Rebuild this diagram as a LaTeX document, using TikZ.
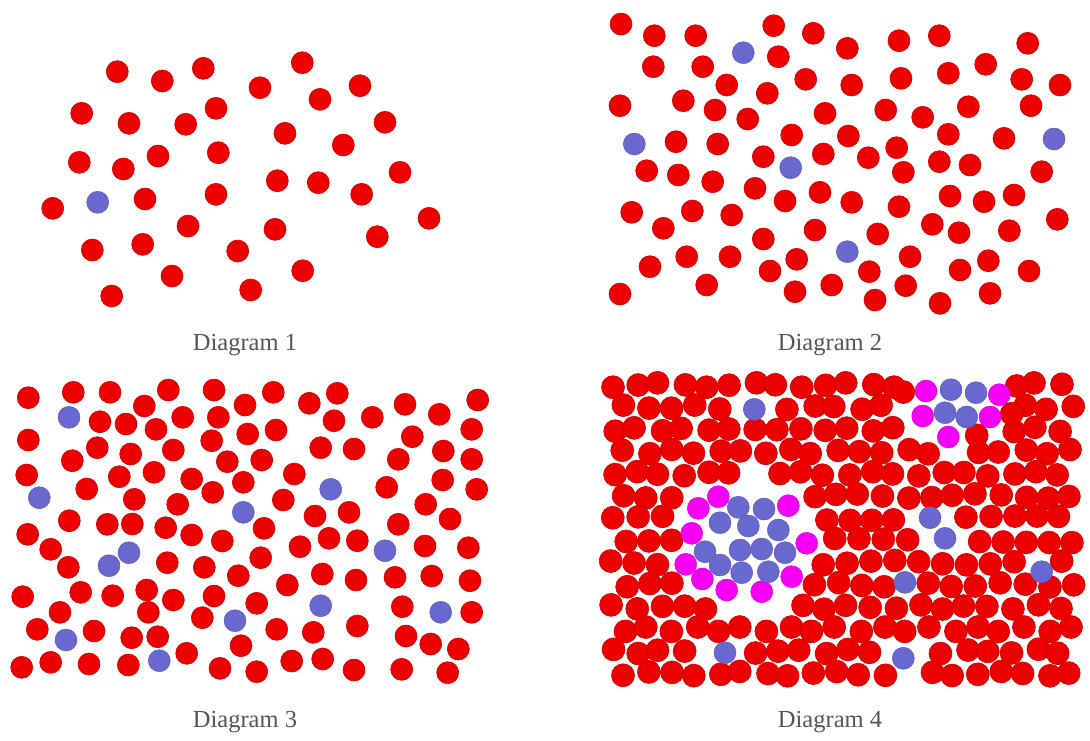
\documentclass[tikz,border=0pt]{standalone}
\usepackage{fontspec}
\setmainfont{Liberation Serif}
\definecolor{dotred}{RGB}{238,0,0}
\definecolor{dotredd}{RGB}{205,0,0}
\definecolor{dotblue}{RGB}{104,104,206}
\definecolor{dotblued}{RGB}{90,90,190}
\definecolor{dotmag}{RGB}{245,0,245}
\definecolor{dotmagd}{RGB}{220,0,220}
\definecolor{capgray}{RGB}{85,85,85}
\tikzset{
  rd/.style={fill=dotred,draw=dotredd,line width=0.6pt},
  bd/.style={fill=dotblue,draw=dotblued,line width=0.5pt},
  md/.style={fill=dotmag,draw=dotmagd,line width=0.5pt},
  captext/.style={anchor=base,text=capgray,font=\fontsize{24.5}{28}\selectfont,inner sep=0pt}
}
\begin{document}
\begin{tikzpicture}[x=1pt,y=-1pt]
\useasboundingbox (0,0) rectangle (1090,740);
\fill[white] (0,0) rectangle (1090,740);

% ---------------- Diagram 1
\foreach \x/\y in {117.3/71.7, 162.3/81, 203.3/68.3, 302.3/62.7, 260/87.7, 360/85.7, 320/99.3, 81.7/113.3, 129/123.3, 185.7/124.3, 216/108.3, 285/133.3, 385/122.3, 343.3/145, 79.3/162.3, 123.3/169, 158/156, 218.3/152.7, 277.3/180.7, 318.3/182.7, 361.7/194.3, 400/172.3, 52.7/208.3, 145/199, 216/194.3, 188/226, 275/229.3, 429/218.3, 377.3/236.7, 92.3/250, 142.7/244.3, 237.7/251, 302.7/270.7, 172/276, 111.7/296, 250.7/290}
  \fill[rd] (\x,\y) circle[radius=11pt];
\fill[bd] (97.7,202.3) circle[radius=11pt];

% ---------------- Diagram 2
\foreach \x/\y in {621/24, 654.3/35.7, 695.7/35.7, 773.7/25.7, 813.3/33.3, 778.3/56.7, 653.3/66.7, 702.7/66.7, 726.7/85, 805.7/79.3, 767.3/93.3, 620/105.7, 683.3/100.7, 715/110, 747.7/119, 825/113.3, 676/141.7, 717.7/144, 791.7/135, 763.3/156.7, 823.3/154, 646.7/170.7, 678.3/175, 712.7/181.7, 755/188.3, 785/201, 820/192.3, 631.7/212.3, 692.3/211, 731.7/215, 663.3/228.3, 763.3/239, 815/230, 650/266.7, 686.7/256.7, 730/256.7, 796.7/259.3, 770/271, 620/294, 706.7/285, 795/291.7, 831.7/285,
 847.3/48.3, 899/40.7, 939.3/35.7, 1027.7/43.3, 851.7/85, 901/78.3, 948.3/73.3, 985.7/64.3, 1021.7/79.3, 1060/85, 885.7/110, 922.7/117.3, 968.3/106.7, 1031/105.7, 848.3/136, 896.7/147.7, 948.3/134.3, 1004/138.3, 868.3/157.7, 903.3/172.3, 939.3/161.7, 970/165, 1041.7/171.7, 851.7/202.3, 899/206.7, 950/196, 984/201.7, 1014/195, 1057.3/219.3, 877.7/234, 932.3/224.3, 959/232.7, 1009.3/230.7, 910/256.7, 869.3/271.7, 960/270, 988.3/260.7, 1029/271, 905.7/285.7, 875/300, 940/303.3, 990/293.3}
  \fill[rd] (\x,\y) circle[radius=11pt];
\foreach \x/\y in {743.3/52.7, 634.3/144, 790.7/167.7, 847.3/251.7, 1054/139}
  \fill[bd] (\x,\y) circle[radius=11pt];

% ---------------- Diagram 3
\foreach \x/\y in {28.3/397.7, 73.3/392.3, 110/392.3, 168.3/390, 214/390, 245/405, 144.3/406, 100/421.7, 126/424, 182.7/417.3, 218.3/417.3, 156/429.3, 28.3/440, 97.3/447.7, 130.7/454, 173.3/450, 211.7/440.7, 247.7/434, 72.3/460.7, 227.3/461.7, 261.7/460, 26.7/475, 119.3/476.7, 154/472.3, 191.7/479, 243.3/482.3, 86.7/489, 212.7/492.3, 134.3/499.3, 177.7/504.3, 69.3/520.7, 107.3/524.3, 132.3/524, 165.7/527.7, 191.7/535, 222.3/541, 27.7/534.3, 50.7/549.3, 68.3/567.3, 167.3/562.7, 204.3/567.3, 238.3/575.7, 260.7/557.7, 22.7/596.7, 80.7/592.3, 112.7/595.7, 146.7/590, 173.3/600, 214/596, 256.7/603.3, 60/612.3, 148.3/612.3, 202.3/617.7, 37.3/629.3, 94/631, 131.7/637.7, 157.7/636.7, 241/645.7, 21.7/667.3, 50.7/662.3, 89/664, 128.3/665, 186.7/653.3, 220/668.3, 256.7/671.7,
 273.3/392.3, 309.3/403.3, 337.3/393.3, 334/420.7, 372.3/417.3, 405/404.3, 439.3/414.3, 477.7/400, 276/430, 320.7/447.7, 354/449, 412.3/436.7, 471.7/429.3, 398.3/459.3, 443.3/451, 471.7/459.3, 294.3/474, 386.7/487.3, 442.7/480, 476.7/489.3, 283.3/500, 315/516, 349/512.3, 425.7/504.3, 450/519, 264/528.3, 398.3/524.3, 300/546.7, 329/538.3, 357.3/540.7, 425/546, 468.3/547.7, 322.3/574, 356/580, 395/577.3, 431.7/576, 470/580.7, 287.3/585, 402.3/606.7, 471.7/612.3, 276.7/629.3, 313.3/632.3, 357.3/626, 406/636, 430.7/644, 458.3/649, 291.7/661, 322.7/659, 354/670, 401.7/669.3, 447.7/672.7}
  \fill[rd] (\x,\y) circle[radius=11pt];
\foreach \x/\y in {69/417.3, 39.3/497.7, 243.3/512.3, 129/552.7, 109/565.7, 235/620.7, 66/640, 159.3/660.7, 330.7/489.3, 385/550.7, 320.7/605.7, 440.7/612.3}
  \fill[bd] (\x,\y) circle[radius=11pt];

% ---------------- Diagram 4
\def\specials{718.3/496.7, 698.3/508.3, 788.3/505.7, 691.7/533.3, 806.7/543.3, 685.7/564.3, 702.3/579, 726.7/590, 761.7/591.7, 791.7/576.7, 926/391, 999.3/394.7, 922.7/416, 990/417, 948.3/437, 951/389.7, 976/392.7, 945/412.7, 966.7/417, 754.3/409.3, 725/652.7, 930/517.7, 945/538.3, 905/582.3, 1041.7/571.7, 903.3/658.3}
\foreach \r in {0,...,13}{
  \foreach \c in {0,...,19}{
    \pgfmathsetmacro\px{613+23.5*\c+11.7*mod(\r,2)+2.5*sin(\c*137+\r*211+\c*\r*29)}
    \pgfmathsetmacro\py{385+22.2*\r+2.2*cos(\c*89+\r*163+\c*\r*41)}
    \pgfmathtruncatemacro\keep{veclen(\px-745,\py-545)>72}
    \global\let\gkeep\keep
    \foreach \sx/\sy in \specials{
      \pgfmathtruncatemacro\near{veclen(\px-\sx,\py-\sy)<17}
      \ifnum\near=1 \gdef\gkeep{0}\fi
    }
    \ifnum\gkeep=1 \fill[rd] (\px,\py) circle[radius=11.5pt];\fi
  }
}
\foreach \x/\y in {1016.7/386, 1011.7/413.7, 903.3/392, 976.7/435.3}
  \fill[rd] (\x,\y) circle[radius=11.5pt];
\foreach \x/\y in {718.3/496.7, 698.3/508.3, 788.3/505.7, 691.7/533.3, 806.7/543.3, 685.7/564.3, 702.3/579, 726.7/590, 761.7/591.7, 791.7/576.7, 926/391, 999.3/394.7, 922.7/416, 990/417, 948.3/437}
  \fill[md] (\x,\y) circle[radius=11pt];
\foreach \x/\y in {738.3/507.3, 764/509, 720/522.7, 748.3/526, 778.3/530, 705/551.7, 740/550, 761.7/549, 785/552.7, 720/565, 741.7/572.7, 768.3/571.7, 951/389.7, 976/392.7, 945/412.7, 966.7/417, 754.3/409.3, 725/652.7, 930/517.7, 945/538.3, 905/582.3, 1041.7/571.7, 903.3/658.3}
  \fill[bd] (\x,\y) circle[radius=11pt];

% ---------------- captions
\node[captext] (c1) at (245,350) {Diagram 1};
\node[captext] (c2) at (830,350) {Diagram 2};
\node[captext] (c3) at (245,727) {Diagram 3};
\node[captext] (c4) at (830,727) {Diagram 4};
\end{tikzpicture}
\end{document}
